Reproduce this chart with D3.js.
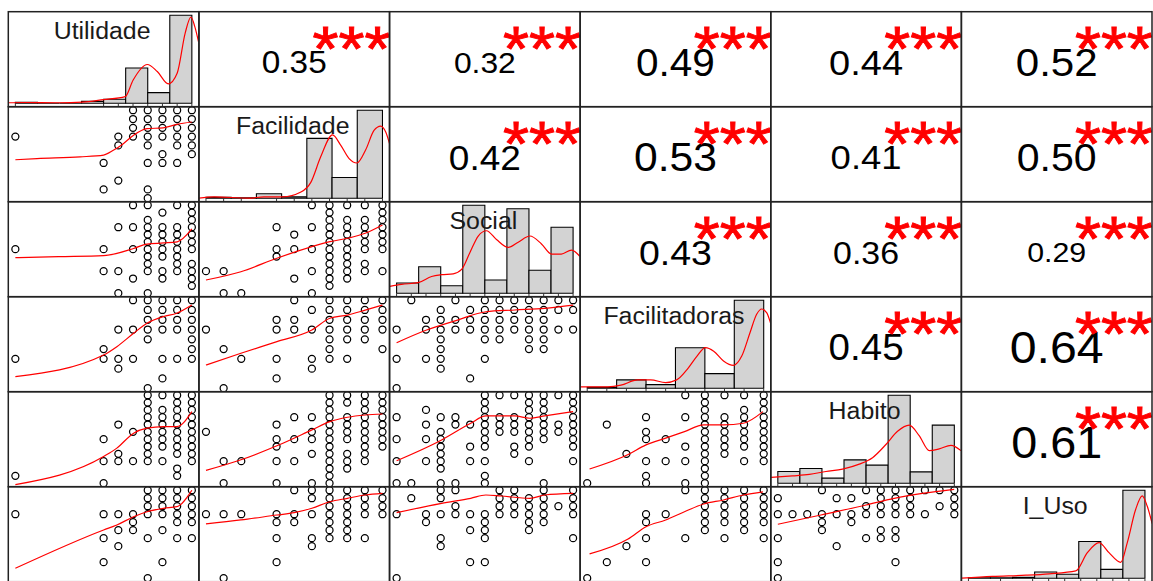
<!DOCTYPE html>
<html>
<head>
<meta charset="utf-8">
<script src="https://cdn.jsdelivr.net/npm/d3@7/dist/d3.min.js"></script>
<style>
  body { margin: 0; background: #fff; }
  svg { display: block; }
</style>
</head>
<body>
<svg id="chart" width="1153" height="581"></svg>
<script>
// variáveis do gráfico de correlação (pares)
const variables = ["Utilidade", "Facilidade", "Social", "Facilitadoras", "Habito", "I_Uso"];
// número de níveis (0..max) de cada escala
const levelMax = [12, 10, 12, 9, 12, 11];
// níveis presentes (rug)
const rugLevels = [
  [0, 6, 7, 8, 9, 10, 11, 12],
  [0, 1, 2, 4, 5, 6, 7, 8, 9, 10],
  [0, 1, 2, 3, 4, 5, 6, 7, 8, 9, 10, 11, 12],
  [0, 1, 2, 3, 4, 5, 6, 7, 8, 9],
  [0, 1, 2, 3, 4, 5, 6, 7, 8, 9, 10, 11, 12],
  [0, 2, 4, 5, 6, 7, 8, 9, 10, 11]
];

// correlações (triângulo superior, por linha)
const corrValues = [
  [0.35, 0.32, 0.49, 0.44, 0.52],
  [0.42, 0.53, 0.41, 0.50],
  [0.43, 0.36, 0.29],
  [0.45, 0.64],
  [0.61]
];
const corrSignif = [
  ["***", "***", "***", "***", "***"],
  ["***", "***", "***", "***"],
  ["***", "***", "***"],
  ["***", "***"],
  ["***"]
];

// histogramas: largura da classe e densidade relativa
const binWidth = [1.5, 10 / 7, 1.5, 1.5, 1.5, 1.375];
const histUtilidade = [0.01, 0, 0, 0.02, 0.045, 0.40, 0.12, 1.0];
const histFacilidade = [0.01, 0.005, 0.05, 0.015, 0.68, 0.235, 1.0];
const histSocial = [0.116, 0.30, 0.085, 1.0, 0.15, 0.96, 0.26, 0.75];
const histFacilitadoras = [0.01, 0.094, 0.04, 0.46, 0.166, 1.0];
const histHabito = [0.133, 0.167, 0.057, 0.265, 0.205, 1.0, 0.128, 0.66];
const histIUso = [0.005, 0.005, 0.01, 0.07, 0.045, 0.417, 0.10, 1.0];

// curvas de densidade [nível, densidade relativa]
const densUtilidade = [[-0.5, 0.005], [0.5, 0.008], [3, 0.005], [4.55, 0.012], [5.98, 0.04], [7.47, 0.075], [8.0, 0.26], [8.97, 0.44], [9.65, 0.36], [10.4, 0.22], [11.0, 0.34], [11.55, 0.80], [11.94, 0.98], [12.2, 0.87], [12.45, 0.70]];
const densFacilidade = [[-0.4, 0.0], [0.47, 0.015], [2.43, 0.0], [3.28, 0.015], [4.34, 0.015], [5.38, 0.07], [5.94, 0.18], [6.5, 0.47], [7.17, 0.72], [7.64, 0.60], [8.11, 0.45], [8.55, 0.40], [9.05, 0.55], [9.52, 0.77], [9.9, 0.82], [10.19, 0.75], [10.4, 0.62]];
const densSocial = [[-0.46, 0.077], [0.34, 0.10], [1.47, 0.12], [2.38, 0.19], [3.06, 0.21], [3.85, 0.22], [4.42, 0.27], [4.98, 0.46], [5.55, 0.65], [6.11, 0.71], [6.79, 0.61], [7.59, 0.52], [8.27, 0.58], [9.06, 0.65], [9.85, 0.56], [10.53, 0.445], [11.2, 0.445], [11.89, 0.49], [12.45, 0.42]];
const densFacilitadoras = [[-0.39, 0.015], [1.05, 0.015], [1.72, 0.034], [2.57, 0.094], [3.24, 0.094], [4.0, 0.064], [4.56, 0.094], [5.1, 0.215], [5.6, 0.365], [6.03, 0.46], [6.45, 0.42], [6.95, 0.31], [7.46, 0.26], [7.88, 0.365], [8.3, 0.63], [8.64, 0.84], [8.9, 0.90], [9.15, 0.86], [9.35, 0.74]];
const densHabito = [[-0.46, 0.065], [1.0, 0.083], [2.14, 0.10], [3.27, 0.133], [4.4, 0.16], [5.54, 0.216], [6.44, 0.29], [7.35, 0.44], [8.14, 0.59], [8.93, 0.66], [9.61, 0.54], [10.3, 0.37], [10.97, 0.39], [11.77, 0.43], [12.45, 0.37]];
const densIUso = [[-0.42, 0.0], [1.49, 0.02], [3.59, 0.034], [5.03, 0.05], [6.69, 0.083], [7.41, 0.29], [8.14, 0.405], [8.76, 0.29], [9.49, 0.18], [9.9, 0.405], [10.42, 0.78], [10.83, 0.935], [11.14, 0.82], [11.45, 0.62]];

// pontos de dispersão: [nível x, [níveis y]]
const ptsR2C1 = [[0, [7]], [6, [4, 1]], [7, [7, 6, 2]], [8, [10, 9, 8, 7]], [9, [10, 9, 8, 7, 6, 4, 1, 0]], [10, [10, 9, 8, 7, 5, 4]], [11, [10, 9, 8, 7, 6, 4]], [12, [10, 9, 8, 7, 6, 5]]];
const ptsR3C1 = [[0, [6]], [6, [6, 3]], [7, [9, 3, 0]], [8, [12, 9, 6, 2]], [9, [12, 10, 9, 8, 7, 6, 5, 4, 3, 0]], [10, [11, 9, 8, 7, 6, 5, 3, 2]], [11, [12, 9, 8, 7, 6, 5, 4, 3]], [12, [12, 11, 10, 9, 8, 7, 6, 4, 3, 2, 1]]];
const ptsR3C2 = [[0, [3]], [1, [3, 0]], [2, [0]], [4, [9, 6, 5]], [5, [8, 6, 2]], [6, [12, 9, 6, 3, 0]], [7, [12, 11, 10, 9, 8, 7, 6, 5, 4, 3, 2, 1]], [8, [12, 10, 9, 8, 7, 6, 5, 4, 3, 2]], [9, [12, 10, 9, 8, 7, 6, 4, 3]], [10, [12, 11, 10, 9, 8, 7, 6, 3]]];
const ptsR4C1 = [[0, [3]], [6, [4, 3]], [7, [6, 3, 2]], [8, [9, 6, 3]], [9, [9, 8, 7, 6, 5, 0]], [10, [9, 8, 7, 6, 3, 1]], [11, [9, 8, 7, 6, 3]], [12, [9, 8, 7, 6, 5, 4, 3]]];
const ptsR4C2 = [[0, [6]], [1, [4, 0]], [2, [3]], [4, [7, 6, 3, 1]], [5, [9, 7, 6]], [6, [8, 6, 3, 2]], [7, [9, 8, 7, 6, 5, 4, 3]], [8, [9, 8, 7, 6, 5, 3]], [9, [9, 8, 7, 6, 5]], [10, [9, 8, 7, 6, 4]]];
const ptsR4C3 = [[0, [6, 3, 0]], [1, [9]], [2, [7, 6, 3]], [3, [8, 7, 6, 5, 4, 3, 2]], [4, [9, 7, 6]], [5, [8, 7, 6, 1]], [6, [9, 8, 7, 6, 5, 3]], [7, [9, 8, 7, 6, 5]], [8, [9, 8, 7, 6]], [9, [9, 8, 7, 6, 5, 4]], [10, [9, 8, 7, 6, 5, 4]], [11, [9, 8, 6]], [12, [9, 8, 6]]];
const ptsR5C1 = [[0, [1]], [6, [6, 3, 0]], [7, [8, 4, 3]], [8, [7, 3]], [9, [12, 11, 10, 9, 8, 7, 6, 5, 4, 3]], [10, [12, 10, 9, 8, 7, 6, 5, 3]], [11, [12, 11, 10, 9, 8, 7, 6, 5, 4, 2, 1]], [12, [12, 11, 10, 9, 8, 7, 6, 5, 4, 3]]];
const ptsR5C2 = [[0, [7]], [1, [3, 0]], [2, [3]], [4, [8, 6, 5, 3, 0]], [5, [9, 6, 3]], [6, [9, 7, 6, 4, 0]], [7, [12, 11, 10, 9, 8, 7, 6, 5, 4, 3, 2, 1, 0]], [8, [12, 11, 9, 8, 7, 6, 4, 3, 2]], [9, [12, 11, 10, 9, 8, 7, 6, 5, 4, 3]], [10, [12, 11, 10, 9, 8, 7, 6, 5]]];
const ptsR5C3 = [[0, [9, 6, 3, 0]], [1, [0]], [2, [10, 8, 6, 3]], [3, [9, 7, 6, 5, 4, 3, 2, 0]], [4, [9, 8, 0]], [5, [8, 5, 3]], [6, [12, 11, 10, 9, 8, 7, 6, 5, 3, 1, 0]], [7, [12, 9, 8, 7]], [8, [12, 9, 8, 7, 5, 4]], [9, [12, 11, 10, 9, 8, 7, 6, 5, 3]], [10, [12, 11, 10, 9, 8, 7, 6, 0]], [11, [12, 8, 7]], [12, [12, 11, 10, 9, 8, 7, 6, 5, 3]]];
const ptsR5C4 = [[0, [0]], [1, [8]], [2, [4]], [3, [9, 7, 6, 3, 1, 0]], [4, [6, 3]], [5, [12, 9, 5, 3, 0]], [6, [12, 11, 10, 9, 8, 7, 6, 5, 4, 3, 2, 1, 0]], [7, [12, 9, 8, 7, 6, 5, 4]], [8, [12, 10, 9, 8, 7, 6, 5, 3]], [9, [12, 11, 10, 9, 8, 7, 6, 5, 4, 3]]];
const ptsR6C1 = [[0, [8]], [6, [8, 5, 2]], [7, [8, 6, 4]], [8, [8, 7, 6]], [9, [11, 10, 9, 8, 5, 0]], [10, [11, 10, 9, 8, 6, 2]], [11, [11, 10, 9, 8, 7, 5]], [12, [11, 10, 9, 8, 7, 5]]];
const ptsR6C2 = [[0, [8]], [1, [8, 0]], [2, [8]], [4, [8, 7, 5, 2]], [5, [11, 8, 7]], [6, [11, 10, 8, 5, 4]], [7, [11, 10, 9, 8, 7, 6, 5]], [8, [11, 10, 9, 8, 7, 6, 5]], [9, [11, 10, 9, 8, 5]], [10, [11, 10, 9, 8]]];
const ptsR6C3 = [[0, [8, 0]], [1, [10]], [2, [8, 7]], [3, [11, 10, 8, 5, 4]], [4, [11, 9, 8]], [5, [8, 6, 2]], [6, [8, 7, 6, 5, 2]], [7, [11, 10, 9, 8]], [8, [11, 10, 9, 8]], [9, [10, 9, 8, 7, 6]], [10, [11, 10, 9, 8, 7]], [11, [9]], [12, [11, 10, 9, 8, 5]]];
const ptsR6C4 = [[0, [0]], [1, [2]], [2, [4]], [3, [8, 7, 5, 2]], [4, [8]], [5, [11, 5]], [6, [11, 10, 9, 8, 7, 6]], [7, [11, 10, 9, 8, 7, 5]], [8, [11, 10, 9, 8, 7, 6]], [9, [11, 10, 9, 8, 7, 5]]];
const ptsR6C5 = [[0, [10, 8, 5, 2, 0]], [1, [8]], [2, [8]], [3, [11, 8, 7, 6]], [4, [10, 8, 4]], [5, [10, 8, 7]], [6, [11, 9, 8, 5]], [7, [11, 10, 9, 8, 6, 5]], [8, [11, 10, 9, 8, 6, 5, 2]], [9, [11, 10, 9, 8]], [10, [11, 8]], [11, [11, 9]], [12, [11, 10, 9, 8]]];

// curvas de suavização (lowess) [nível x, nível y]
const smoothR2C1 = [[0, 4.37], [1.47, 4.5], [4.4, 4.7], [6.0, 4.9], [6.66, 5.44], [7.34, 6.2], [8.04, 7.16], [8.95, 7.9], [10.05, 8.0], [11.0, 8.4], [12.0, 8.66]];
const smoothR3C1 = [[0, 4.84], [2.94, 4.98], [6.0, 5.12], [8.04, 6.1], [8.95, 6.7], [10.08, 6.85], [11.0, 7.0], [12.0, 8.76]];
const smoothR3C2 = [[0, 1.8], [1.98, 2.93], [4.02, 4.77], [6.0, 6.35], [7.02, 7.03], [8.02, 7.49], [9.02, 8.17], [10, 9.3]];
const smoothR4C1 = [[0, 1.18], [6.0, 3.4], [6.9, 4.25], [8.04, 5.62], [8.95, 6.64], [10.07, 7.33], [10.98, 7.67], [12, 8.5]];
const smoothR4C2 = [[0, 2.37], [1.98, 3.57], [4.02, 4.76], [6.0, 5.95], [7.02, 7.15], [8.02, 7.48], [9.02, 7.99], [10, 8.5]];
const smoothR4C3 = [[0, 4.65], [2.04, 5.95], [4.14, 6.97], [6.07, 7.82], [8.04, 8.0], [10.07, 8.17], [12, 8.5]];
const smoothR5C1 = [[0, -0.2], [6, 3.64], [6.9, 4.78], [8.04, 6.82], [8.95, 7.5], [10.07, 7.72], [10.98, 7.72], [12, 9.76]];
const smoothR5C2 = [[0, 1.74], [1.98, 3.19], [4.02, 5.1], [6, 7.27], [7.02, 8.4], [8.02, 8.99], [9.02, 9.3], [10, 9.44]];
const smoothR5C3 = [[0, 3.06], [3.06, 5.9], [5.04, 8.18], [6.07, 9.17], [8.04, 9.17], [9.06, 8.86], [10.07, 9.17], [12, 9.76]];
const smoothR5C4 = [[0.12, 1.93], [2.06, 3.87], [3, 5.23], [4, 6.14], [4.96, 7.04], [5.94, 7.95], [6.95, 7.95], [7.96, 8.18], [8.96, 9.76]];
const smoothR6C1 = [[0, 1.24], [6, 6.03], [6.9, 6.65], [8.04, 7.69], [8.95, 8.31], [10.07, 8.74], [10.98, 8.94], [12, 11.0]];
const smoothR6C2 = [[0, 6.78], [1.98, 7.28], [4.02, 7.9], [5, 8.19], [6, 8.74], [7.02, 9.56], [8.02, 9.99], [9.02, 10.4], [10, 10.6]];
const smoothR6C3 = [[0, 8.19], [3.06, 9.36], [5.04, 9.99], [6.07, 10.4], [7.09, 10.28], [9.06, 9.99], [10.07, 10.4], [12, 10.6]];
const smoothR6C4 = [[0.12, 3.03], [2.06, 4.86], [3, 6.44], [4, 7.28], [4.96, 8.31], [5.94, 9.28], [6.95, 9.78], [7.96, 10.4], [8.96, 10.8]];
const smoothR6C5 = [[0, 6.74], [2.93, 7.9], [5.99, 9.15], [7.91, 9.99], [9.83, 10.6], [11.99, 11.1]];

const histData = [histUtilidade, histFacilidade, histSocial, histFacilitadoras, histHabito, histIUso];
const densData = [densUtilidade, densFacilidade, densSocial, densFacilitadoras, densHabito, densIUso];
const scatterPanels = [
  [1, 0, ptsR2C1, smoothR2C1],
  [2, 0, ptsR3C1, smoothR3C1], [2, 1, ptsR3C2, smoothR3C2],
  [3, 0, ptsR4C1, smoothR4C1], [3, 1, ptsR4C2, smoothR4C2], [3, 2, ptsR4C3, smoothR4C3],
  [4, 0, ptsR5C1, smoothR5C1], [4, 1, ptsR5C2, smoothR5C2], [4, 2, ptsR5C3, smoothR5C3], [4, 3, ptsR5C4, smoothR5C4],
  [5, 0, ptsR6C1, smoothR6C1], [5, 1, ptsR6C2, smoothR6C2], [5, 2, ptsR6C3, smoothR6C3], [5, 3, ptsR6C4, smoothR6C4], [5, 4, ptsR6C5, smoothR6C5]
];

const FONT = "'Liberation Sans', Arial, sans-serif";
const n = variables.length;
const svg = d3.select('#chart');
const colX = d3.scaleLinear().domain([0, n]).range([8.3, 1152]);
const rowY = d3.scaleLinear().domain([0, n]).range([11.7, 581.7]);
const cw = colX(1) - colX(0);
const ch = rowY(1) - rowY(0);
const defs = svg.append('defs');

// escala com extensão de 4% (como o R)
function levelScale(v, a, b) {
  const m = levelMax[v];
  return d3.scaleLinear().domain([-0.04 * m, 1.04 * m]).range([a, b]);
}

function panelGroup(r, c) {
  const id = `clip-${r}-${c}`;
  defs.append('clipPath').attr('id', id)
    .append('rect')
    .attr('x', colX(c)).attr('y', rowY(r))
    .attr('width', cw).attr('height', ch);
  return svg.append('g').attr('clip-path', `url(#${id})`);
}

// painéis de dispersão
scatterPanels.forEach(([r, c, pts, smooth]) => {
  const g = panelGroup(r, c);
  const x = levelScale(c, colX(c), colX(c) + cw);
  const y = levelScale(r, rowY(r) + ch, rowY(r));
  const flat = pts.flatMap(([xi, ys]) => ys.map(yi => [xi, yi]));

  g.append('g').selectAll('circle')
    .data(flat)
    .enter().append('circle')
    .attr('cx', d => x(d[0]))
    .attr('cy', d => y(d[1]))
    .attr('r', 3.5)
    .attr('fill', 'none')
    .attr('stroke', '#000')
    .attr('stroke-width', 1.25);

  g.append('path')
    .datum(smooth)
    .attr('d', d3.line().x(d => x(d[0])).y(d => y(d[1])).curve(d3.curveMonotoneX))
    .attr('fill', 'none')
    .attr('stroke', '#ff0000')
    .attr('stroke-width', 1.2);
});

// diagonal: histograma + densidade + rug + rótulo
variables.forEach((name, i) => {
  const g = panelGroup(i, i);
  const x0 = colX(i), y0 = rowY(i);
  const x = levelScale(i, x0, x0 + cw);
  const y = d3.scaleLinear().domain([-0.04, 1.04]).range([y0 + ch, y0]);
  const w = binWidth[i];

  g.append('g').selectAll('path')
    .data(histData[i])
    .enter().append('path')
    .attr('d', (d, k) => `M${x(k * w)},${y(0)}V${y(d)}H${x((k + 1) * w)}V${y(0)}Z`)
    .attr('fill', '#d3d3d3')
    .attr('stroke', '#000')
    .attr('stroke-width', 1.1);

  g.append('path')
    .datum(densData[i])
    .attr('d', d3.line().x(d => x(d[0])).y(d => y(d[1])).curve(d3.curveMonotoneX))
    .attr('fill', 'none')
    .attr('stroke', '#ff0000')
    .attr('stroke-width', 1.2);

  g.append('g').selectAll('line')
    .data(rugLevels[i])
    .enter().append('line')
    .attr('x1', d => x(d)).attr('x2', d => x(d))
    .attr('y1', y0 + ch).attr('y2', y0 + ch - 0.03 * ch)
    .attr('stroke', '#000')
    .attr('stroke-width', 0.8);

  const fs = 23.5;
  svg.append('text')
    .attr('transform', `translate(${x0 + cw / 2 - 1.5},${y0 + 0.167 * ch + 3.4 + 0.358 * fs}) scale(1.06,1)`)
    .attr('text-anchor', 'middle')
    .attr('font-family', FONT)
    .attr('font-size', fs)
    .attr('fill', '#1a1a1a')
    .text(name);
});

// triângulo superior: correlações
corrValues.forEach((rowVals, r) => {
  rowVals.forEach((val, k) => {
    const c = r + k + 1;
    const g = panelGroup(r, c);
    const x0 = colX(c), y0 = rowY(r);
    const fsNum = 48 * (val + 0.3);
    const fsStar = 48 * 1.3;

    g.append('text')
      .attr('transform', `translate(${x0 + cw / 2},${y0 + ch / 2 + 3 + 0.358 * fsNum}) scale(1.07,1)`)
      .attr('text-anchor', 'middle')
      .attr('font-family', FONT)
      .attr('font-size', fsNum)
      .attr('fill', '#000')
      .text(val.toFixed(2));

    g.append('text')
      .attr('transform', `translate(${x0 + 0.8 * cw},${y0 + 0.2 * ch + 3.3 + 0.573 * fsStar}) scale(1.07,1)`)
      .attr('text-anchor', 'middle')
      .attr('font-family', FONT)
      .attr('font-size', fsStar)
      .attr('fill', '#ff0000')
      .attr('stroke', '#ff0000')
      .attr('stroke-width', 0.9)
      .text(corrSignif[r][k]);
  });
});

// bordas dos painéis
const cells = d3.cross(d3.range(n), d3.range(n));
svg.append('g').selectAll('rect')
  .data(cells)
  .enter().append('rect')
  .attr('x', d => colX(d[1]))
  .attr('y', d => rowY(d[0]))
  .attr('width', cw)
  .attr('height', ch)
  .attr('fill', 'none')
  .attr('stroke', '#222')
  .attr('stroke-width', 1.5);
</script>
</body>
</html>
